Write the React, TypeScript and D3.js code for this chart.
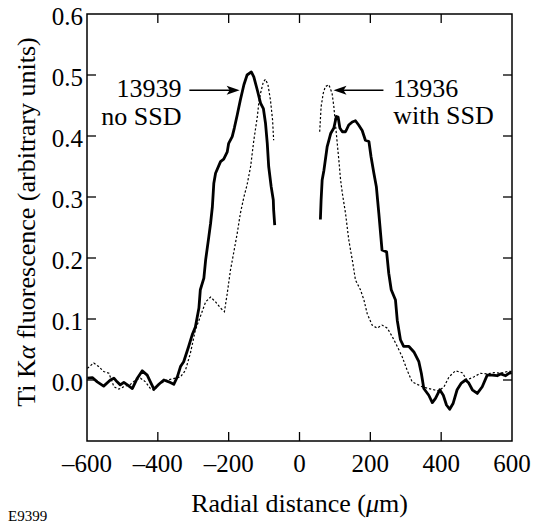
import React from "react";
import * as d3 from "d3";

// ---- Data (radial distance in µm, Ti Kα fluorescence in arbitrary units) ----
const shot13939Left: [number, number][] = [
  [-599, 0.003], [-585, 0.004], [-571, -0.003], [-553, -0.010], [-534, 0.000],
  [-524, 0.003], [-515, -0.003], [-506, -0.008], [-496, -0.004], [-486, -0.008],
  [-472, -0.014], [-458, 0.003], [-444, 0.015], [-430, 0.008], [-421, -0.003],
  [-411, -0.015], [-397, -0.007], [-383, 0.000], [-369, -0.003], [-355, -0.007],
  [-345, 0.005], [-336, 0.022], [-327, 0.030], [-313, 0.055], [-303, 0.074],
  [-294, 0.087], [-284, 0.118], [-280, 0.148], [-270, 0.167], [-265, 0.197],
  [-256, 0.235], [-251, 0.257], [-246, 0.284], [-242, 0.322], [-237, 0.339],
  [-223, 0.358], [-214, 0.362], [-204, 0.374], [-200, 0.388], [-190, 0.399],
  [-184, 0.413], [-176, 0.434], [-167, 0.459], [-157, 0.484], [-148, 0.500],
  [-136, 0.505], [-129, 0.497], [-119, 0.475], [-110, 0.454], [-102, 0.445],
  [-96, 0.421], [-91, 0.388], [-87, 0.350], [-80, 0.317], [-74, 0.295],
  [-73, 0.279], [-70, 0.254],
];
const shot13939Right: [number, number][] = [
  [59, 0.263], [61, 0.295], [64, 0.328], [69, 0.344], [78, 0.382], [88, 0.404],
  [97, 0.413], [104, 0.432], [109, 0.431], [114, 0.413], [121, 0.407], [130, 0.407],
  [139, 0.418], [149, 0.423], [158, 0.425], [167, 0.418], [177, 0.409], [186, 0.393],
  [196, 0.391], [202, 0.366], [210, 0.339], [217, 0.317], [224, 0.273], [233, 0.213],
  [246, 0.210], [252, 0.175], [259, 0.148], [271, 0.131], [276, 0.098], [285, 0.066],
  [294, 0.055], [309, 0.055], [323, 0.046], [337, 0.030], [344, 0.011], [351, -0.014],
  [365, -0.025], [375, -0.037], [384, -0.030], [396, -0.016], [406, -0.025],
  [415, -0.041], [424, -0.048], [434, -0.038], [445, -0.016], [457, -0.005],
  [469, 0.000], [478, -0.005], [488, -0.016], [502, -0.022], [516, -0.011],
  [530, 0.008], [544, 0.008], [558, 0.007], [568, 0.010], [582, 0.007],
  [591, 0.011], [599, 0.012],
];
const shot13936Left: [number, number][] = [
  [-599, 0.019], [-581, 0.028], [-567, 0.022], [-553, 0.014], [-538, 0.011],
  [-524, -0.011], [-510, -0.015], [-496, -0.011], [-477, -0.007], [-463, 0.000],
  [-449, 0.003], [-435, -0.003], [-421, -0.014], [-411, -0.017], [-397, -0.007],
  [-374, 0.000], [-350, 0.003], [-336, 0.005], [-322, 0.016], [-308, 0.044],
  [-294, 0.082], [-280, 0.104], [-265, 0.128], [-251, 0.136], [-237, 0.128],
  [-223, 0.118], [-212, 0.112], [-204, 0.142], [-195, 0.180], [-186, 0.208],
  [-176, 0.240], [-167, 0.273], [-157, 0.300], [-148, 0.320], [-138, 0.350],
  [-129, 0.393], [-119, 0.432], [-115, 0.454], [-110, 0.470], [-102, 0.489],
  [-96, 0.493], [-89, 0.484], [-82, 0.459], [-76, 0.426], [-73, 0.393],
];
const shot13936Right: [number, number][] = [
  [57, 0.407], [61, 0.448], [67, 0.470], [73, 0.481], [83, 0.484], [92, 0.470],
  [97, 0.448], [104, 0.404], [111, 0.361], [116, 0.328], [121, 0.306], [130, 0.273],
  [139, 0.230], [149, 0.197], [158, 0.164], [172, 0.148], [182, 0.131], [191, 0.109],
  [205, 0.090], [219, 0.085], [233, 0.090], [248, 0.085], [262, 0.071], [276, 0.055],
  [290, 0.038], [304, 0.016], [318, -0.003], [332, -0.007], [346, -0.011],
  [365, -0.014], [379, -0.016], [393, -0.018], [408, -0.011], [422, 0.005],
  [440, 0.015], [459, 0.012], [473, 0.000], [492, 0.005], [511, 0.011],
  [530, 0.010], [549, 0.012], [568, 0.011], [587, 0.014], [599, 0.014],
];

const xTicks = [-600, -400, -200, 0, 200, 400, 600];
const yTicks = [0.0, 0.1, 0.2, 0.3, 0.4, 0.5, 0.6];
const xTickLabels = ["\u2013600", "\u2013400", "\u2013200", "0", "200", "400", "600"];
const yTickLabels = ["0.0", "0.1", "0.2", "0.3", "0.4", "0.5", "0.6"];

// annotations (data coordinates)
const annotLeft = { lines: ["13939", "no SSD"], tail: [-311, 0.475], tip: [-169, 0.475], text: -333 };
const annotRight = { lines: ["13936", "with SSD"], tail: [237, 0.475], tip: [96, 0.475], text: 265 };

const W = 533, H = 525;
const M = { left: 87, right: 512, top: 14, bottom: 441 };
const FONT = '"Liberation Serif"';

export default function App() {
  const x = d3.scaleLinear().domain([-600, 600]).range([M.left, M.right]);
  const y = d3.scaleLinear().domain([-0.1, 0.6]).range([M.bottom, M.top]);
  const line = d3.line<[number, number]>().x(d => x(d[0])).y(d => y(d[1])).curve(d3.curveLinear);
  const tickLen = 9;
  const ts = { fontFamily: FONT };

  const arrow = (tail: number[], tip: number[]) => {
    const x1 = x(tail[0]), y1 = y(tail[1]), x2 = x(tip[0]), y2 = y(tip[1]);
    const dir = Math.sign(x2 - x1);
    const hl = 13, hw = 4.5;
    const head = `M${x2},${y2} L${x2 - dir * hl},${y2 - hw} L${x2 - dir * (hl - 3)},${y2} L${x2 - dir * hl},${y2 + hw} Z`;
    return (
      <g>
        <line x1={x1} y1={y1} x2={x2 - dir * 8} y2={y2} stroke="#000" strokeWidth={1.5} />
        <path d={head} fill="#000" />
      </g>
    );
  };

  return (
    <svg width={W} height={H} style={{ position: "absolute", left: 0, top: 0, background: "#fff" }}>
      <rect x={0} y={0} width={W} height={H} fill="#fff" />
      {/* curves */}
      <path d={line(shot13936Left) || ""} fill="none" stroke="#000" strokeWidth={1.2} strokeDasharray="2.2,2" />
      <path d={line(shot13936Right) || ""} fill="none" stroke="#000" strokeWidth={1.2} strokeDasharray="2.2,2" />
      <path d={line(shot13939Left) || ""} fill="none" stroke="#000" strokeWidth={2.8} strokeLinejoin="round" />
      <path d={line(shot13939Right) || ""} fill="none" stroke="#000" strokeWidth={2.8} strokeLinejoin="round" />

      {/* frame */}
      <rect x={M.left} y={M.top} width={M.right - M.left} height={M.bottom - M.top} fill="none" stroke="#000" strokeWidth={1.5} />
      {/* ticks */}
      {xTicks.slice(1, -1).map(t => (
        <g key={"xt" + t}>
          <line x1={x(t)} x2={x(t)} y1={M.bottom} y2={M.bottom - tickLen} stroke="#000" strokeWidth={1.3} />
          <line x1={x(t)} x2={x(t)} y1={M.top} y2={M.top + tickLen} stroke="#000" strokeWidth={1.3} />
        </g>
      ))}
      {yTicks.filter(t => t < 0.6).map(t => (
        <g key={"yt" + t}>
          <line x1={M.left} x2={M.left + tickLen} y1={y(t)} y2={y(t)} stroke="#000" strokeWidth={1.3} />
          <line x1={M.right} x2={M.right - tickLen} y1={y(t)} y2={y(t)} stroke="#000" strokeWidth={1.3} />
        </g>
      ))}
      {/* tick labels */}
      {xTicks.map((t, i) => (
        <text key={"xl" + t} style={ts} x={x(t)} y={M.bottom + 31} textAnchor="middle" fontSize={25}>{xTickLabels[i]}</text>
      ))}
      {yTicks.map((t, i) => (
        <text key={"yl" + t} style={ts} x={M.left - 4} y={y(t) + 11} textAnchor="end" fontSize={25}>{yTickLabels[i]}</text>
      ))}

      {/* axis titles */}
      <text style={ts} x={(M.left + M.right) / 2} y={512} textAnchor="middle" fontSize={26}>
        Radial distance (<tspan fontStyle="italic">μ</tspan>m)
      </text>
      <text style={ts} transform={`translate(35,222) rotate(-90)`} textAnchor="middle" fontSize={26}>
        Ti K<tspan fontStyle="italic">α</tspan> fluorescence (arbitrary units)
      </text>
      <text style={ts} x={8} y={521} fontSize={15}>E9399</text>

      {/* annotations */}
      {arrow(annotLeft.tail, annotLeft.tip)}
      {arrow(annotRight.tail, annotRight.tip)}
      {annotLeft.lines.map((s, i) => (
        <text key={"al" + i} style={ts} x={x(annotLeft.text)} y={97 + i * 28} textAnchor="end" fontSize={26}>{s}</text>
      ))}
      {annotRight.lines.map((s, i) => (
        <text key={"ar" + i} style={ts} x={x(annotRight.text)} y={97 + i * 27} textAnchor="start" fontSize={26}>{s}</text>
      ))}
    </svg>
  );
}
